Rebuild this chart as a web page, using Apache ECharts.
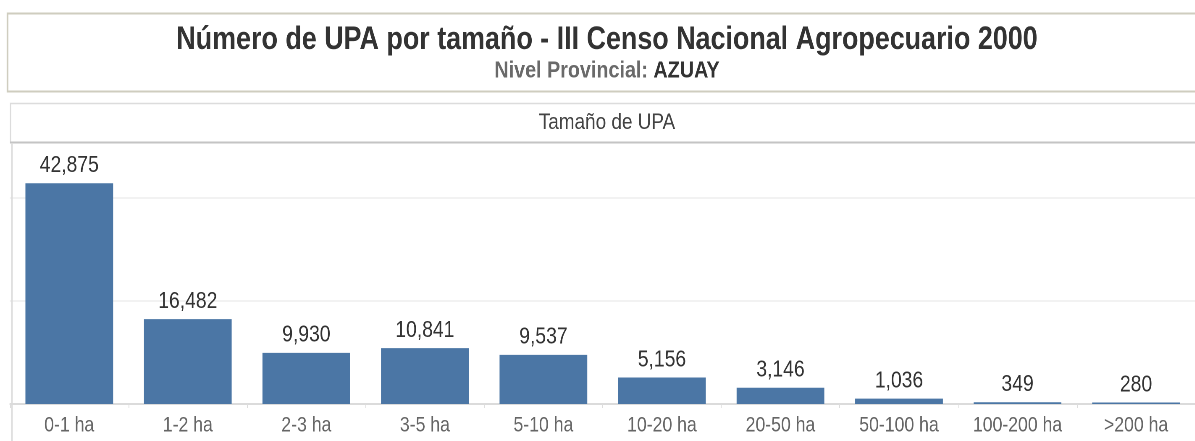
<!DOCTYPE html>
<html>
<head>
<meta charset="utf-8">
<title>Número de UPA por tamaño</title>
<script src="https://cdn.jsdelivr.net/npm/echarts@6/dist/echarts.min.js"></script>
<style>
  html, body { margin: 0; padding: 0; background: #ffffff; overflow: hidden; }
  #wrap { width: 1195px; height: 441px; overflow: hidden; }
  /* narrow the whole drawing so the Arial-like face reads as a condensed one */
  #chart { height: 441px; transform-origin: 0 0; }
</style>
</head>
<body>
<div id="wrap"><div id="chart"></div></div>
<script>
// Farm units (UPA) by size class, Azuay province, 2000 agricultural census
const categories = ['0-1 ha', '1-2 ha', '2-3 ha', '3-5 ha', '5-10 ha', '10-20 ha', '20-50 ha', '50-100 ha', '100-200 ha', '>200 ha'];
const upaCounts = [42875, 16482, 9930, 10841, 9537, 5156, 3146, 1036, 349, 280];

const titleText = 'Número de UPA por tamaño - III Censo Nacional Agropecuario 2000';
const levelLabel = 'Nivel Provincial: ';
const levelValue = 'AZUAY';
const panelTitle = 'Tamaño de UPA';

const FONT = "'Liberation Sans', Arial, sans-serif";
const SX = 0.84;                       // horizontal condensing factor
const W = Math.round(1195 / SX);       // drawing width before condensing
const X = v => v / SX;                 // page x -> drawing x

const el = document.getElementById('chart');
el.style.width = W + 'px';
el.style.transform = 'scaleX(' + SX + ')';

const chart = echarts.init(el, null, { renderer: 'canvas', devicePixelRatio: 2 });
const CX = X(607);

chart.setOption({
  backgroundColor: '#ffffff',
  animation: false,
  graphic: [
    // header box with the main title
    { type: 'rect', z: 0, shape: { x: X(7.5), y: 13.5, width: W + 40, height: 78 },
      style: { fill: '#ffffff', stroke: '#cfcdbf', lineWidth: 2 } },
    // panel caption box
    { type: 'rect', z: 0, shape: { x: X(10.5), y: 103.5, width: W + 40, height: 39 },
      style: { fill: '#ffffff', stroke: '#dcdcdc', lineWidth: 1.5 } },
    { type: 'line', z: 1, shape: { x1: X(10), y1: 142.5, x2: W, y2: 142.5 },
      style: { stroke: '#c4c4c4', lineWidth: 2 } },
    // left border of the plot panel
    { type: 'line', z: 1, shape: { x1: X(12), y1: 143, x2: X(12), y2: 441 },
      style: { stroke: '#dcdcdc', lineWidth: 1.6 } },
    { type: 'text', z: 2, style: { x: CX, y: 40, text: titleText, align: 'center', verticalAlign: 'middle',
      font: "bold 32px " + FONT, fill: '#333333' } },
    { type: 'text', z: 2, style: { x: CX, y: 71, align: 'center', verticalAlign: 'middle',
      text: '{a|' + levelLabel + '}{b|' + levelValue + '}',
      rich: {
        a: { fontFamily: FONT, fontWeight: 'bold', fontSize: 23.5, fill: '#6a6a6a', color: '#6a6a6a' },
        b: { fontFamily: FONT, fontWeight: 'bold', fontSize: 23.5, fill: '#333333', color: '#333333' }
      } } },
    { type: 'text', z: 2, style: { x: CX, y: 123, text: panelTitle, align: 'center', verticalAlign: 'middle',
      font: "22.5px " + FONT, fill: '#444444' } }
  ],
  grid: { left: X(10), right: W - X(1207), top: 146.5, bottom: 37, containLabel: false },
  xAxis: {
    type: 'category',
    data: categories,
    axisLine: { show: true, lineStyle: { color: '#d2d2d2', width: 1.5 } },
    axisTick: { show: true, length: 4, lineStyle: { color: '#dddddd' } },
    axisLabel: { color: '#666666', fontSize: 21, fontFamily: FONT, margin: 11, interval: 0 }
  },
  yAxis: {
    type: 'value',
    min: 0,
    max: 50000,
    interval: 10000,
    axisLine: { show: false },
    axisTick: { show: false },
    axisLabel: { show: false },
    splitLine: { show: true, lineStyle: { color: ['#eeeeee', 'transparent'], width: 1.5 } }
  },
  series: [{
    type: 'bar',
    data: upaCounts,
    barWidth: '74%',
    itemStyle: { color: '#4b76a5' },
    label: {
      show: true,
      position: 'top',
      distance: 6,
      color: '#333333',
      fontSize: 23,
      fontFamily: FONT,
      formatter: p => p.value.toLocaleString('en-US')
    }
  }]
});
</script>
</body>
</html>
